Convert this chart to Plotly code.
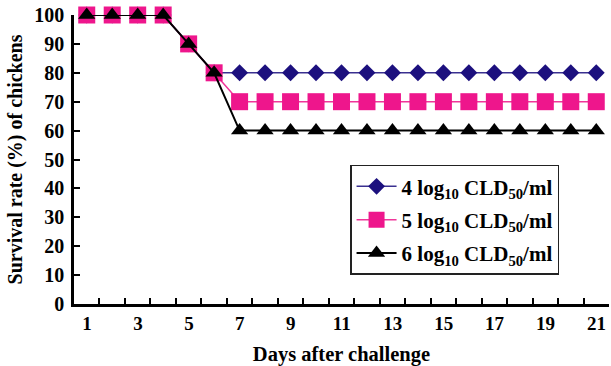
import plotly.graph_objects as go

days = list(range(1, 22))
s4 = [100, 100, 100, 100, 90, 80] + [80] * 15
s5 = [100, 100, 100, 100, 90, 80] + [70] * 15
s6 = [100, 100, 100, 100, 90, 80] + [60] * 15
names = ["4 log<sub>10</sub> CLD<sub>50</sub>/ml",
         "5 log<sub>10</sub> CLD<sub>50</sub>/ml",
         "6 log<sub>10</sub> CLD<sub>50</sub>/ml"]
x_labels = [1, 3, 5, 7, 9, 11, 13, 15, 17, 19, 21]
y_ticks = [0, 10, 20, 30, 40, 50, 60, 70, 80, 90, 100]

# tick marks sit between days; labels are shifted back onto the day
x_tickmarks = [d - 0.5 for d in days]
x_ticktext = [str(d) if d in x_labels else "" for d in days]

FONT = "Liberation Serif"

fig = go.Figure()
fig.add_trace(go.Scatter(x=days, y=s4, name=names[0], mode="lines+markers",
                         legendgroup="a",
                         line=dict(color="#3A3090", width=1.5),
                         marker=dict(symbol="diamond", size=13, color="#1C107E"),
                         cliponaxis=False))
fig.add_trace(go.Scatter(x=days, y=s5, name=names[1], mode="lines+markers",
                         legendgroup="b",
                         line=dict(color="#F0369A", width=1.5),
                         marker=dict(symbol="square", size=17, color="#EE168C"),
                         cliponaxis=False))
fig.add_trace(go.Scatter(x=days, y=s6, name=names[2], mode="lines+markers",
                         legendgroup="c",
                         line=dict(color="#000000", width=2),
                         marker=dict(symbol="triangle-up", size=15, color="#000000"),
                         cliponaxis=False))

fig.update_layout(
    width=611, height=366,
    margin=dict(l=73.5, r=2, t=15, b=62, autoexpand=False),
    paper_bgcolor="white", plot_bgcolor="white",
    font=dict(family=FONT, size=19, color="black", weight="bold"),
    showlegend=True,
    legend=dict(x=0.516, y=0.482, xanchor="left", yanchor="top",
                traceorder="grouped", tracegroupgap=3, itemwidth=40,
                bordercolor="#222222", borderwidth=1.5, bgcolor="white",
                font=dict(family=FONT, size=21, color="black", weight="bold")),
    xaxis=dict(
        automargin=False,
        range=[0.5, 21.5], tickmode="array", tickvals=x_tickmarks,
        ticktext=x_ticktext, ticklabelshift=13,
        ticks="inside", ticklen=6,
        tickwidth=1.5, tickcolor="black", showgrid=False,
        zeroline=False, showline=True, linecolor="black", linewidth=2.5,
        tickfont=dict(family=FONT, size=19, weight="bold"),
        ticklabelstandoff=0,
        title=dict(text="Days after challenge", font=dict(family=FONT, size=20.5, weight="bold"),
                   standoff=18),
    ),
    yaxis=dict(
        automargin=False,
        range=[0, 100], tickmode="array", tickvals=y_ticks,
        ticks="inside", ticklen=6, tickwidth=1.5, tickcolor="black",
        showgrid=False, zeroline=False, showline=True, linecolor="black", linewidth=2.5,
        tickfont=dict(family=FONT, size=20, weight="bold"),
        ticklabelstandoff=3,
        title=dict(text="Survival rate (%) of chickens",
                   font=dict(family=FONT, size=20, weight="bold"), standoff=7),
    ),
)

fig.write_html("out.html", config={"displayModeBar": False},
               post_script="document.body.style.margin='0';document.body.style.overflow='hidden';")
